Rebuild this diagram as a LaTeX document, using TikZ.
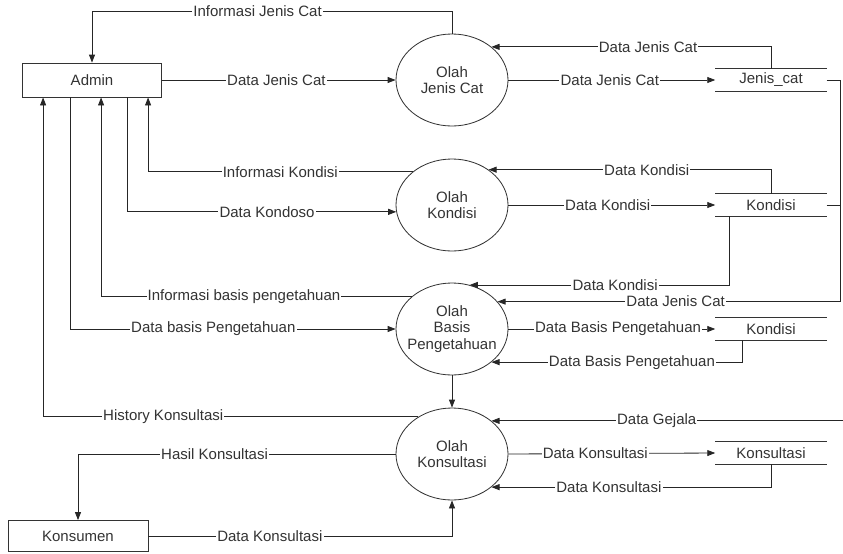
\documentclass[tikz,border=0pt]{standalone}
\usepackage{fontspec}
\setmainfont{Liberation Sans}
\usetikzlibrary{positioning}
\usetikzlibrary{arrows.meta}
\usetikzlibrary{shapes.geometric}
\usetikzlibrary{calc}

\tikzset{
    entity/.style={draw=black!80, line width=0.7pt, rectangle, inner sep=0pt},
    process/.style={draw=black!80, line width=0.7pt, ellipse, minimum width=3.36cm,
        minimum height=2.76cm, inner sep=0pt, align=center,
        font=\fontsize{12.8}{14}\selectfont},
    store/.style={minimum width=3.33cm, minimum height=0.66cm, inner sep=0pt},
    flow/.style={draw=black!85, line width=0.7pt, -{Triangle[length=0.24cm,width=0.18cm]}},
    lbl/.style={fill=white, inner sep=1pt},
}

\begin{document}
\begin{tikzpicture}[x=0.03cm, y=-0.03cm, font=\fontsize{12.8}{14}\selectfont, text=black!80]
        \useasboundingbox (0,0) rectangle (843,553);
        \node[entity, minimum width=4.17cm, minimum height=1.02cm] (admin) at (92,80) {Admin};
        \node[entity, minimum width=4.2cm, minimum height=0.93cm] (konsumen) at (78,536) {Konsumen};

        \node[process] (ojc) at (452,80) {Olah\\Jenis Cat};
        \node[process] (ok) at (452,205) {Olah\\Kondisi};
        \node[process] (obp) at (452,329) {Olah\\Basis\\\makebox[0pt]{Pengetahuan}};
        \node[process] (oks) at (452,454) {Olah\\Konsultasi};

        \node[store] (jc) at (771,80) {Jenis\_cat};
        \node[store] (kd) at (771,205) {Kondisi};
        \node[store] (kd2) at (771,329) {Kondisi};
        \node[store] (ks) at (771,453) {Konsultasi};
        \foreach \s in {jc,kd,kd2,ks}
            \draw[black!80, line width=0.7pt] (\s.north west) -- (\s.north east)
                (\s.south west) -- (\s.south east);

        \coordinate (jcturn) at (840,80);
        \coordinate (gejala) at (843,0);

        \draw[flow] (ojc.north) -- ++(0,-22) -|
            node[lbl, pos=0.27]{Informasi Jenis Cat} (admin.north);
        \draw[flow] (admin.east) -- node[lbl, pos=0.49]{Data Jenis Cat} (ojc.west);
        \draw[flow] (jc.north) |- node[lbl, pos=0.72]{Data Jenis Cat} (ojc.40);
        \draw[flow] (ojc.east) -- node[lbl, pos=0.49]{Data Jenis Cat} (jc.west);
        \draw[flow] (jc.east) -- (jcturn) |-
            node[lbl, pos=0.74]{Data Jenis Cat} (obp.31);
        \draw[black!85, line width=0.7pt] (kd.east) -- (kd.east -| jcturn);

        \draw[flow] (ok.140) -| node[lbl, pos=0.25]{Informasi Kondisi}
            ($(admin.south west)+(126,0)$);
        \draw[flow] ($(admin.south west)+(105,0)$) |-
            node[lbl, pos=0.76]{Data Kondoso} (ok.187);
        \draw[flow] (kd.north) |- node[lbl, pos=0.72]{Data Kondisi} (ok.44);
        \draw[flow] (ok.east) -- node[lbl, pos=0.48]{Data Kondisi} (kd.west);

        \draw[flow] ($(kd.south west)+(14,0)$) |-
            node[lbl, pos=0.72]{Data Kondisi} (obp.68);
        \draw[flow] (obp.141) -| node[lbl, pos=0.27]{Informasi basis pengetahuan}
            ($(admin.south west)+(79,0)$);
        \draw[flow] ($(admin.south west)+(48,0)$) |-
            node[lbl, pos=0.72]{Data basis Pengetahuan} (obp.west);
        \draw[flow] (obp.east) -- node[lbl, pos=0.53]{Data Basis Pengetahuan} (kd2.west);
        \draw[flow] ($(kd2.south west)+(27,0)$) |-
            node[lbl, pos=0.72]{Data Basis Pengetahuan} (obp.320);

        \draw[flow] (oks.132) -| node[lbl, pos=0.34]{History Konsultasi}
            ($(admin.south west)+(21,0)$);
        \draw[flow] (obp.south) -- (oks.north);
        \draw[flow] (gejala |- oks.40) -- node[lbl, pos=0.53]{Data Gejala} (oks.40);
        \draw[flow] (oks.west) -| node[lbl, pos=0.285]{Hasil Konsultasi} (konsumen.north);
        \draw[flow] (oks.east) -- node[lbl, pos=0.42]{Data Konsultasi} (ks.west);
        \draw[flow] (ks.south) |- node[lbl, pos=0.79]{Data Konsultasi} (oks.320);
        \draw[flow] (konsumen.east) -| node[lbl, pos=0.2]{Data Konsultasi} (oks.south);
    \end{tikzpicture}
\end{document}
